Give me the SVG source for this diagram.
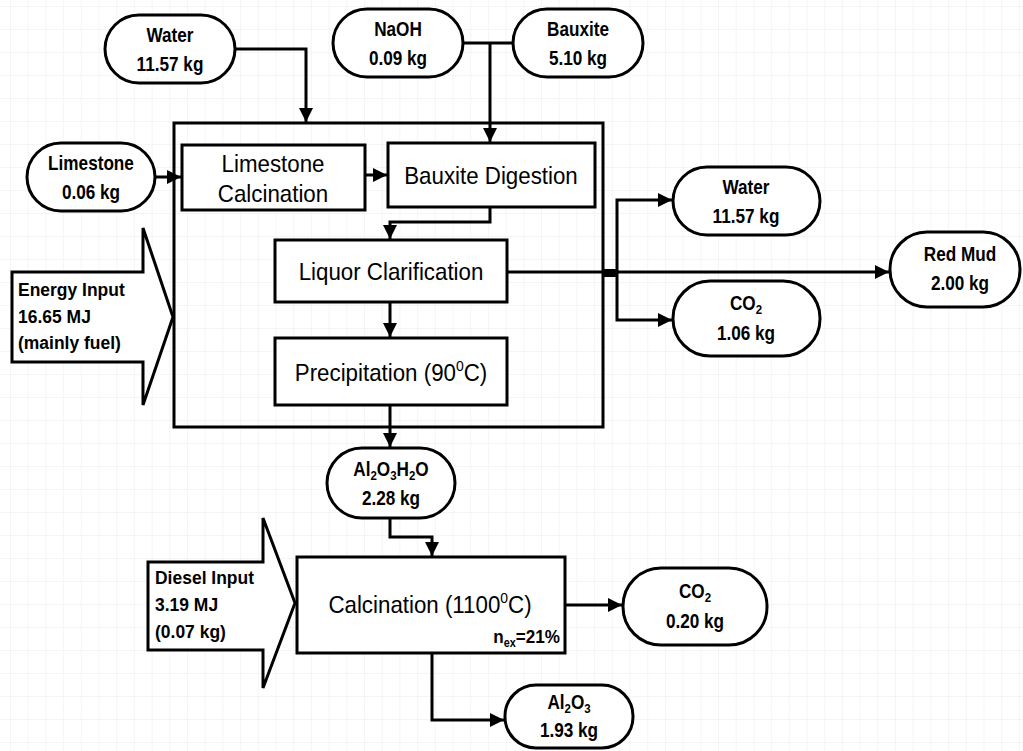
<svg xmlns="http://www.w3.org/2000/svg" width="1023" height="751" viewBox="0 0 1023 751">
<defs>
<pattern id="grid" x="10" y="6" width="17.7" height="23" patternUnits="userSpaceOnUse">
<path d="M0,0 V23 M0,0 H17.7" fill="none" stroke="#f2f2f2" stroke-width="1.5"/>
</pattern>
<marker id="ah" markerUnits="userSpaceOnUse" markerWidth="16" markerHeight="16" refX="14" refY="7" orient="auto">
<path d="M0,0 L14,7 L0,14 Z" fill="#000"/>
</marker>
<style>
.pill{fill:#fff;stroke:#000;stroke-width:3}
.box{fill:#fff;stroke:#000;stroke-width:3}
.con{fill:none;stroke:#000;stroke-width:3;marker-end:url(#ah)}
.line{fill:none;stroke:#000;stroke-width:3}
.pt{font-family:"Liberation Sans",Arial,sans-serif;font-weight:bold;font-size:19.5px;text-anchor:middle;fill:#000}
.bt{font-family:"Liberation Sans",Arial,sans-serif;font-size:24px;text-anchor:middle;fill:#000}
.at{font-family:"Liberation Sans",Arial,sans-serif;font-weight:bold;font-size:19px;fill:#000}
.sub{font-size:13px}
</style>
</defs>
<rect width="1023" height="751" fill="#fff"/>
<rect width="1023" height="751" fill="url(#grid)"/>

<g id="process-boundary"><rect x="174" y="123" width="429" height="304" fill="none" stroke="#000" stroke-width="3"/></g>

<g id="connectors">
<path class="con" d="M235,49 H306 V122"/>
<path class="line" d="M463,43 H513"/>
<path class="con" d="M490,43 V142"/>
<path class="con" d="M155,177 H181"/>
<path class="con" d="M365,175 H387"/>
<path class="con" d="M490,207 V222 H390 V239"/>
<path class="con" d="M390,302 V337"/>
<path class="con" d="M390,405 V447"/>
<path class="con" d="M507,272 H889"/>
<path class="con" d="M617,272 V200 H672"/>
<path class="con" d="M617,272 V320 H672"/>
<rect x="602" y="269" width="16" height="8" fill="#000"/>
<path class="con" d="M390,518 V537 H432 V556"/>
<path class="con" d="M565,605 H622"/>
<path class="con" d="M432,653 V720 H504"/>
</g>

<g id="water-in"><rect class="pill" x="105" y="15" width="130" height="68" rx="34"/>
<g transform="translate(170,0) scale(0.88,1)"><text class="pt" x="0" y="42">Water</text><text class="pt" x="0" y="71">11.57 kg</text></g></g>

<g id="naoh"><rect class="pill" x="333" y="9" width="130" height="68" rx="34"/>
<g transform="translate(398,0) scale(0.88,1)"><text class="pt" x="0" y="36">NaOH</text><text class="pt" x="0" y="65">0.09 kg</text></g></g>

<g id="bauxite"><rect class="pill" x="513" y="9" width="130" height="68" rx="34"/>
<g transform="translate(578,0) scale(0.88,1)"><text class="pt" x="0" y="36">Bauxite</text><text class="pt" x="0" y="65">5.10 kg</text></g></g>

<g id="limestone"><rect class="pill" x="27" y="143" width="128" height="68" rx="34"/>
<g transform="translate(91,0) scale(0.88,1)"><text class="pt" x="0" y="170">Limestone</text><text class="pt" x="0" y="199">0.06 kg</text></g></g>

<g id="limestone-calcination"><rect class="box" x="182" y="145" width="183" height="65"/>
<g transform="translate(273,0) scale(0.93,1)"><text class="bt" x="0" y="172">Limestone</text><text class="bt" x="0" y="202">Calcination</text></g></g>

<g id="bauxite-digestion"><rect class="box" x="388" y="143" width="207" height="64"/>
<g transform="translate(491,0) scale(0.93,1)"><text class="bt" x="0" y="184">Bauxite Digestion</text></g></g>

<g id="liquor-clarification"><rect class="box" x="275" y="240" width="232" height="62"/>
<g transform="translate(391,0) scale(0.93,1)"><text class="bt" x="0" y="280">Liquor Clarification</text></g></g>

<g id="precipitation"><rect class="box" x="275" y="338" width="232" height="67"/>
<g transform="translate(391,0) scale(0.93,1)"><text class="bt" x="0" y="381">Precipitation (90<tspan font-size="15" dy="-10">0</tspan><tspan dy="10">C)</tspan></text></g></g>

<g id="energy-input"><polygon points="12,272 143,272 143,228 173,317 143,405 143,362 12,362" fill="#fff" stroke="#000" stroke-width="3"/>
<g transform="translate(18,0) scale(0.92,1)"><text class="at" x="0" y="296">Energy Input</text><text class="at" x="0" y="323">16.65 MJ</text><text class="at" x="0" y="349">(mainly fuel)</text></g></g>

<g id="water-out"><rect class="pill" x="673" y="167" width="147" height="68" rx="34"/>
<g transform="translate(746,0) scale(0.88,1)"><text class="pt" x="0" y="194">Water</text><text class="pt" x="0" y="223">11.57 kg</text></g></g>

<g id="co2-out"><rect class="pill" x="673" y="281" width="147" height="75" rx="37"/>
<g transform="translate(746,0) scale(0.88,1)"><text class="pt" x="0" y="310">CO<tspan class="sub" dy="4">2</tspan></text><text class="pt" x="0" y="340">1.06 kg</text></g></g>

<g id="red-mud"><rect class="pill" x="890" y="232" width="130" height="75" rx="37"/>
<g transform="translate(960,0) scale(0.88,1)"><text class="pt" x="0" y="261">Red Mud</text><text class="pt" x="0" y="290">2.00 kg</text></g></g>

<g id="alumina-hydrate"><rect class="pill" x="327" y="448" width="128" height="70" rx="35"/>
<g transform="translate(391,0) scale(0.88,1)"><text class="pt" x="0" y="476">Al<tspan class="sub" dy="4">2</tspan><tspan dy="-4">O</tspan><tspan class="sub" dy="4">3</tspan><tspan dy="-4">H</tspan><tspan class="sub" dy="4">2</tspan><tspan dy="-4">O</tspan></text><text class="pt" x="0" y="505">2.28 kg</text></g></g>

<g id="diesel-input"><polygon points="148,562 263,562 263,518 295,603 263,688 263,650 148,650" fill="#fff" stroke="#000" stroke-width="3"/>
<g transform="translate(155,0) scale(0.92,1)"><text class="at" x="0" y="584">Diesel Input</text><text class="at" x="0" y="611">3.19 MJ</text><text class="at" x="0" y="638">(0.07 kg)</text></g></g>

<g id="calcination"><rect class="box" x="297" y="557" width="268" height="96"/>
<g transform="translate(430,0) scale(0.93,1)"><text class="bt" x="0" y="613">Calcination (1100<tspan font-size="15" dy="-10">0</tspan><tspan dy="10">C)</tspan></text></g>
<g transform="translate(560,0) scale(0.9,1)"><text class="at" x="0" y="643" text-anchor="end" font-size="18">n<tspan font-size="12" dy="4">ex</tspan><tspan dy="-4">=21%</tspan></text></g></g>

<g id="co2-calc"><rect class="pill" x="623" y="568" width="144" height="77" rx="38"/>
<g transform="translate(695,0) scale(0.88,1)"><text class="pt" x="0" y="598">CO<tspan class="sub" dy="4">2</tspan></text><text class="pt" x="0" y="628">0.20 kg</text></g></g>

<g id="alumina"><rect class="pill" x="505" y="685" width="128" height="63" rx="31"/>
<g transform="translate(569,0) scale(0.88,1)"><text class="pt" x="0" y="709">Al<tspan class="sub" dy="4">2</tspan><tspan dy="-4">O</tspan><tspan class="sub" dy="4">3</tspan></text><text class="pt" x="0" y="737">1.93 kg</text></g></g>
</svg>
